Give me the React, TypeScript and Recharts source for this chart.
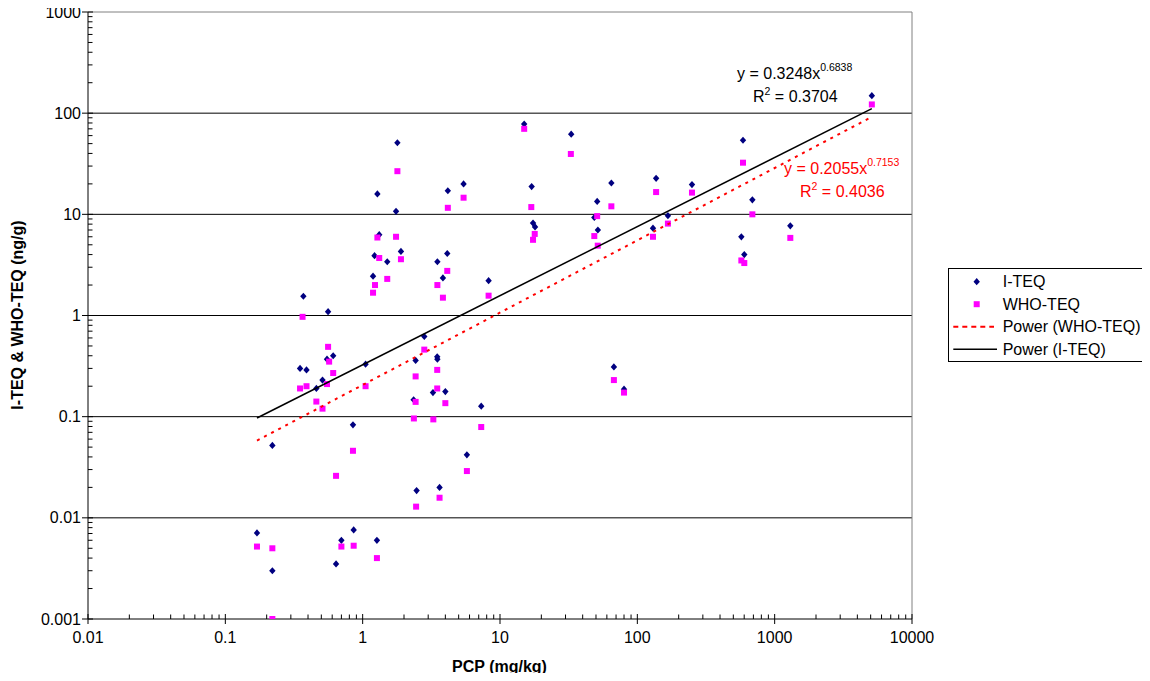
import React from "react";
import {
  ScatterChart,
  Scatter,
  XAxis,
  YAxis,
  ReferenceLine,
  Customized,
} from "recharts";

const FONT = "'Liberation Sans', Arial, Helvetica, sans-serif";

// I-TEQ (ng/g) against PCP (mg/kg)
const iteqPCP = [
  0.17, 0.22, 0.22, 0.37, 0.35, 0.39, 0.46, 0.51, 0.55, 0.56, 0.61, 0.64, 0.7,
  0.86, 0.85, 1.05, 1.19, 1.22, 1.27, 1.28, 1.32, 1.51, 1.75, 1.79, 1.9, 2.43,
  2.35, 2.47, 2.81, 3.25, 3.49, 3.5, 3.5, 3.63, 3.84, 4.0, 4.13, 4.17, 5.43,
  5.74, 7.3, 8.26, 15, 17, 17.4, 18, 33, 48.6, 51, 51.6, 64.7, 67.5, 80, 130,
  137, 167, 250, 572, 588, 601, 688, 1300, 5100,
];
const iteqValues = [
  0.0071, 0.003, 0.052, 1.55, 0.3, 0.29, 0.19, 0.23, 0.37, 1.09, 0.4, 0.0035,
  0.006, 0.0076, 0.083, 0.33, 2.45, 3.9, 0.006, 15.9, 6.3, 3.4, 10.7, 51, 4.3,
  0.36, 0.147, 0.0186, 0.62, 0.173, 0.39, 0.37, 3.4, 0.02, 2.35, 0.177, 4.1,
  17.1, 20, 0.042, 0.127, 2.21, 78, 18.8, 8.2, 7.5, 62, 9.3, 13.4, 7.0, 20.4,
  0.31, 0.187, 7.3, 22.7, 9.7, 19.7, 6.0, 54, 4.0, 13.9, 7.7, 149,
];

// WHO-TEQ (ng/g) against PCP (mg/kg)
const whoPCP = [
  0.17, 0.22, 0.22, 0.365, 0.35, 0.39, 0.46, 0.51, 0.55, 0.56, 0.57, 0.61, 0.64,
  0.7, 0.85, 0.86, 1.05, 1.19, 1.23, 1.27, 1.28, 1.32, 1.51, 1.79, 1.75, 1.9,
  2.36, 2.43, 2.43, 2.45, 2.81, 3.27, 3.49, 3.49, 3.5, 3.63, 3.84, 4.0, 4.13,
  4.17, 5.43, 5.74, 7.3, 8.26, 15, 16.9, 17.9, 17.4, 32.8, 48.6, 51, 51.5, 64.7,
  67.5, 80, 130, 137, 167, 250, 572, 588, 601, 688, 1300, 5100,
];
const whoValues = [
  0.0052, 0.005, 0.001, 0.97, 0.19, 0.2, 0.141, 0.12, 0.21, 0.49, 0.35, 0.27,
  0.026, 0.0052, 0.046, 0.0053, 0.2, 1.68, 2.0, 0.004, 5.9, 3.7, 2.3, 26.7, 6.0,
  3.6, 0.096, 0.25, 0.14, 0.0129, 0.46, 0.094, 0.29, 0.19, 2.0, 0.0158, 1.5,
  0.136, 2.76, 11.6, 14.6, 0.029, 0.079, 1.57, 70, 11.8, 6.4, 5.6, 39.5, 6.1,
  9.6, 4.9, 12.0, 0.23, 0.173, 6.0, 16.6, 8.1, 16.4, 3.5, 32.4, 3.3, 10, 5.85,
  122,
];

// power trendlines (straight on log-log), end points as drawn
const powerITEQPCP = [0.17, 5100];
const powerITEQValues = [0.097, 111];
const powerWHOPCP = [0.17, 5100];
const powerWHOValues = [0.058, 92];

const seriesNames = ["I-TEQ", "WHO-TEQ", "Power (WHO-TEQ)", "Power (I-TEQ)"];

const xMajorTicks = [0.01, 0.1, 1, 10, 100, 1000, 10000];
const yMajorTicks = [0.001, 0.01, 0.1, 1, 10, 100, 1000];
const minorSteps = [2, 3, 4, 5, 6, 7, 8, 9];

const minorOf = (majors: number[]) =>
  majors.slice(0, -1).flatMap((d) => minorSteps.map((m) => d * m));

const xTicks = [...xMajorTicks, ...minorOf(xMajorTicks)];
const yTicks = [...yMajorTicks, ...minorOf(yMajorTicks)];

const toPoints = (xs: number[], ys: number[]) =>
  xs.map((x, i) => ({ x, y: ys[i] }));

const iteqData = toPoints(iteqPCP, iteqValues);
const whoData = toPoints(whoPCP, whoValues);
const powerITEQ = toPoints(powerITEQPCP, powerITEQValues);
const powerWHO = toPoints(powerWHOPCP, powerWHOValues);

const XTick = (props: any) => {
  const { x, y, payload } = props;
  const v = payload.value;
  if (!xMajorTicks.includes(v)) {
    return <line x1={x} y1={y} x2={x} y2={y - 4.5} stroke="#000" />;
  }
  return (
    <g>
      <line x1={x} y1={y - 5} x2={x} y2={y + 5} stroke="#000" />
      <text
        x={x}
        y={y + 24}
        textAnchor="middle"
        fontSize={16}
        fontFamily={FONT}
        fill="#000"
      >
        {String(v)}
      </text>
    </g>
  );
};

const YTick = (props: any) => {
  const { x, y, payload } = props;
  const v = payload.value;
  if (!yMajorTicks.includes(v)) {
    return <line x1={x} y1={y} x2={x + 4.5} y2={y} stroke="#000" />;
  }
  return (
    <g>
      <line x1={x - 6} y1={y} x2={x + 5} y2={y} stroke="#000" />
      <text
        x={x - 7}
        y={y + 5.5}
        textAnchor="end"
        fontSize={16}
        fontFamily={FONT}
        fill="#000"
      >
        {String(v)}
      </text>
    </g>
  );
};

const Diamond = (props: any) => {
  const { cx, cy } = props;
  return (
    <polygon
      points={`${cx},${cy - 3.6} ${cx + 3.2},${cy} ${cx},${cy + 3.6} ${cx - 3.2},${cy}`}
      fill="#000080"
    />
  );
};

const Square = (props: any) => {
  const { cx, cy } = props;
  return <rect x={cx - 3} y={cy - 3} width={6} height={6} fill="#FF00FF" />;
};

const NoDot = () => <g />;

// equations, axis titles and legend box
const Annotations = () => {
  const rowY = [281.7, 304.2, 326.7, 349.2];
  return (
    <g fontFamily={FONT}>
      <text x={737} y={79} fontSize={16} fill="#000">
        y = 0.3248x
        <tspan dy={-8} fontSize={10.5}>
          0.6838
        </tspan>
      </text>
      <text x={753} y={102} fontSize={16} fill="#000">
        R
        <tspan dy={-7} fontSize={10.5}>
          2
        </tspan>
        <tspan dy={7}> = 0.3704</tspan>
      </text>
      <text x={784} y={174} fontSize={16} fill="#FF0000">
        y = 0.2055x
        <tspan dy={-8} fontSize={10.5}>
          0.7153
        </tspan>
      </text>
      <text x={800} y={197} fontSize={16} fill="#FF0000">
        R
        <tspan dy={-7} fontSize={10.5}>
          2
        </tspan>
        <tspan dy={7}> = 0.4036</tspan>
      </text>

      <text
        x={499.5}
        y={672}
        textAnchor="middle"
        fontSize={16}
        fontWeight="bold"
        fill="#000"
      >
        PCP (mg/kg)
      </text>
      <text
        x={23}
        y={315}
        textAnchor="middle"
        fontSize={16}
        fontWeight="bold"
        fill="#000"
        transform="rotate(-90, 23, 315)"
      >
        I-TEQ &amp; WHO-TEQ (ng/g)
      </text>

      <rect
        x={948.5}
        y={268.5}
        width={194}
        height={93}
        fill="#fff"
        stroke="#000"
      />
      <polygon
        points={`976.7,${rowY[0] - 3.6} 979.9,${rowY[0]} 976.7,${rowY[0] + 3.6} 973.5,${rowY[0]}`}
        fill="#000080"
      />
      <rect x={973.7} y={rowY[1] - 3} width={6} height={6} fill="#FF00FF" />
      <line
        x1={953.3}
        y1={rowY[2]}
        x2={994}
        y2={rowY[2]}
        stroke="#FF0000"
        strokeWidth={2}
        strokeDasharray="5 4"
      />
      <line
        x1={953.3}
        y1={rowY[3]}
        x2={997}
        y2={rowY[3]}
        stroke="#000"
        strokeWidth={1.5}
      />
      {seriesNames.map((name, i) => (
        <text
          key={name}
          x={1002.7}
          y={rowY[i] + 5.7}
          fontSize={16}
          fill="#000"
        >
          {name}
        </text>
      ))}
    </g>
  );
};

const App: React.FC = () => {
  return (
    <div style={{ margin: -8 }}>
      <ScatterChart
        width={1150}
        height={681}
        margin={{ top: 12, right: 238, bottom: 0, left: 0 }}
      >
        <XAxis
          type="number"
          dataKey="x"
          scale="log"
          domain={[0.01, 10000]}
          ticks={xTicks}
          interval={0}
          tick={XTick}
          tickLine={false}
          tickSize={0}
          tickMargin={0}
          axisLine={{ stroke: "#000" }}
          height={62}
          allowDataOverflow
        />
        <YAxis
          type="number"
          dataKey="y"
          scale="log"
          domain={[0.001, 1000]}
          ticks={yTicks}
          interval={0}
          tick={YTick}
          tickLine={false}
          tickSize={0}
          tickMargin={0}
          axisLine={{ stroke: "#000" }}
          width={88}
          allowDataOverflow
        />
        {yMajorTicks.slice(1, -1).map((v) => (
          <ReferenceLine key={v} y={v} stroke="#000" />
        ))}
        <ReferenceLine y={1000} stroke="#808080" />
        <ReferenceLine x={10000} stroke="#808080" />

        <Scatter
          name="I-TEQ"
          data={iteqData}
          shape={Diamond}
          isAnimationActive={false}
        />
        <Scatter
          name="WHO-TEQ"
          data={whoData}
          shape={Square}
          isAnimationActive={false}
        />
        <Scatter
          name="Power (WHO-TEQ)"
          data={powerWHO}
          shape={NoDot}
          line={{ stroke: "#FF0000", strokeWidth: 2, strokeDasharray: "3 5" }}
          isAnimationActive={false}
        />
        <Scatter
          name="Power (I-TEQ)"
          data={powerITEQ}
          shape={NoDot}
          line={{ stroke: "#000", strokeWidth: 1.5 }}
          isAnimationActive={false}
        />
        <Customized component={Annotations} />
      </ScatterChart>
    </div>
  );
};

export default App;
